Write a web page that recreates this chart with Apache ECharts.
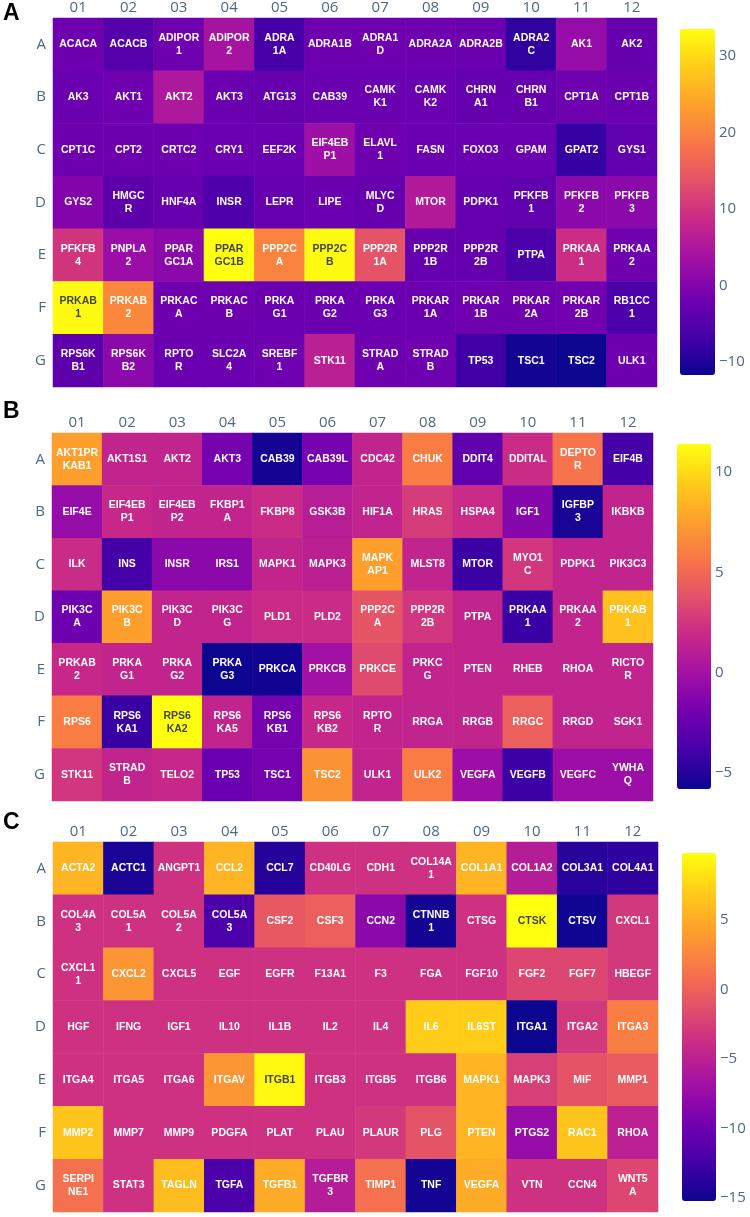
<!DOCTYPE html>
<html>
<head>
<meta charset="utf-8">
<script src="https://cdn.jsdelivr.net/npm/echarts@6/dist/echarts.min.js"></script>
<style>
  html, body { margin: 0; padding: 0; background: #fff; }
  #chart { width: 750px; height: 1217px; }
</style>
</head>
<body>
<div id="chart"></div>
<script>
var cols = ['01', '02', '03', '04', '05', '06', '07', '08', '09', '10', '11', '12'];
var rows = ['A', 'B', 'C', 'D', 'E', 'F', 'G'];

// panel A
var genesA = [
  'ACACA', 'ACACB', 'ADIPOR\n1', 'ADIPOR\n2', 'ADRA\n1A', 'ADRA1B', 'ADRA1\nD', 'ADRA2A', 'ADRA2B', 'ADRA2\nC', 'AK1', 'AK2',
  'AK3', 'AKT1', 'AKT2', 'AKT3', 'ATG13', 'CAB39', 'CAMK\nK1', 'CAMK\nK2', 'CHRN\nA1', 'CHRN\nB1', 'CPT1A', 'CPT1B',
  'CPT1C', 'CPT2', 'CRTC2', 'CRY1', 'EEF2K', 'EIF4EB\nP1', 'ELAVL\n1', 'FASN', 'FOXO3', 'GPAM', 'GPAT2', 'GYS1',
  'GYS2', 'HMGC\nR', 'HNF4A', 'INSR', 'LEPR', 'LIPE', 'MLYC\nD', 'MTOR', 'PDPK1', 'PFKFB\n1', 'PFKFB\n2', 'PFKFB\n3',
  'PFKFB\n4', 'PNPLA\n2', 'PPAR\nGC1A', 'PPAR\nGC1B', 'PPP2C\nA', 'PPP2C\nB', 'PPP2R\n1A', 'PPP2R\n1B', 'PPP2R\n2B', 'PTPA', 'PRKAA\n1', 'PRKAA\n2',
  'PRKAB\n1', 'PRKAB\n2', 'PRKAC\nA', 'PRKAC\nB', 'PRKA\nG1', 'PRKA\nG2', 'PRKA\nG3', 'PRKAR\n1A', 'PRKAR\n1B', 'PRKAR\n2A', 'PRKAR\n2B', 'RB1CC\n1',
  'RPS6K\nB1', 'RPS6K\nB2', 'RPTO\nR', 'SLC2A\n4', 'SREBF\n1', 'STK11', 'STRAD\nA', 'STRAD\nB', 'TP53', 'TSC1', 'TSC2', 'ULK1'
];
var valuesA = [
  -2.0, -5.0, -2.0, 4.0, -6.5, -2.0, -2.0, -2.0, -2.5, -8.5, 2.0, -3.0,
  -2.5, -2.0, 5.0, -2.5, -3.0, -2.5, -2.5, -2.5, -3.0, -3.0, -2.0, -2.5,
  -2.0, -2.0, -2.0, -2.5, -2.5, 3.0, -2.0, -2.5, -2.5, -2.5, -8.0, -3.5,
  0.0, -4.0, -3.0, -5.5, -3.0, -2.5, -3.0, 5.5, -3.0, -3.5, 1.0, 1.0,
  10.0, 2.5, 1.0, 33.5, 20.0, 33.0, 14.0, -3.0, -3.0, -6.0, 9.0, -2.0,
  33.0, 20.5, -2.0, -2.0, -2.5, -2.5, -2.5, -2.5, -2.0, -2.0, -1.5, -6.0,
  -4.0, 1.0, -2.5, -2.5, -2.0, 6.5, -2.0, -2.0, -7.0, -11.0, -11.7, -2.0
];
var rangeA = [-11.7, 33.5];
var ticksA = [30, 20, 10, 0, -10];

// panel B
var genesB = [
  'AKT1PR\nKAB1', 'AKT1S1', 'AKT2', 'AKT3', 'CAB39', 'CAB39L', 'CDC42', 'CHUK', 'DDIT4', 'DDITAL', 'DEPTO\nR', 'EIF4B',
  'EIF4E', 'EIF4EB\nP1', 'EIF4EB\nP2', 'FKBP1\nA', 'FKBP8', 'GSK3B', 'HIF1A', 'HRAS', 'HSPA4', 'IGF1', 'IGFBP\n3', 'IKBKB',
  'ILK', 'INS', 'INSR', 'IRS1', 'MAPK1', 'MAPK3', 'MAPK\nAP1', 'MLST8', 'MTOR', 'MYO1\nC', 'PDPK1', 'PIK3C3',
  'PIK3C\nA', 'PIK3C\nB', 'PIK3C\nD', 'PIK3C\nG', 'PLD1', 'PLD2', 'PPP2C\nA', 'PPP2R\n2B', 'PTPA', 'PRKAA\n1', 'PRKAA\n2', 'PRKAB\n1',
  'PRKAB\n2', 'PRKA\nG1', 'PRKA\nG2', 'PRKA\nG3', 'PRKCA', 'PRKCB', 'PRKCE', 'PRKC\nG', 'PTEN', 'RHEB', 'RHOA', 'RICTO\nR',
  'RPS6', 'RPS6\nKA1', 'RPS6\nKA2', 'RPS6\nKA5', 'RPS6\nKB1', 'RPS6\nKB2', 'RPTO\nR', 'RRGA', 'RRGB', 'RRGC', 'RRGD', 'SGK1',
  'STK11', 'STRAD\nB', 'TELO2', 'TP53', 'TSC1', 'TSC2', 'ULK1', 'ULK2', 'VEGFA', 'VEGFB', 'VEGFC', 'YWHA\nQ'
];
var valuesB = [
  7.5, 1.5, 1.5, -1.8, -5.5, -1.8, 1.5, 6.0, -2.7, 2.0, 5.5, -3.9,
  -0.6, 1.8, 1.5, 1.5, 2.0, 1.0, 1.5, 2.8, 2.0, -1.2, -5.4, 1.5,
  2.0, -3.9, -1.0, -1.0, 1.5, 1.2, 7.5, 1.5, -4.2, 2.5, 1.5, 1.5,
  -2.2, 7.5, 1.5, 1.5, 2.0, 2.0, 4.0, 2.5, 1.5, -4.3, 1.5, 9.0,
  1.8, 1.5, 1.5, -5.8, -5.6, 0.0, 3.5, 1.5, 1.5, 1.5, 1.5, 1.5,
  6.0, -4.3, 11.4, 1.5, -1.8, 1.8, 1.5, 1.5, 1.5, 4.5, 1.5, 1.5,
  2.5, 1.5, 1.8, -2.3, -1.8, 7.0, 1.5, 6.0, -0.3, -4.2, -0.3, -0.3
];
var rangeB = [-5.8, 11.4];
var ticksB = [10, 5, 0, -5];

// panel C
var genesC = [
  'ACTA2', 'ACTC1', 'ANGPT1', 'CCL2', 'CCL7', 'CD40LG', 'CDH1', 'COL14A\n1', 'COL1A1', 'COL1A2', 'COL3A1', 'COL4A1',
  'COL4A\n3', 'COL5A\n1', 'COL5A\n2', 'COL5A\n3', 'CSF2', 'CSF3', 'CCN2', 'CTNNB\n1', 'CTSG', 'CTSK', 'CTSV', 'CXCL1',
  'CXCL1\n1', 'CXCL2', 'CXCL5', 'EGF', 'EGFR', 'F13A1', 'F3', 'FGA', 'FGF10', 'FGF2', 'FGF7', 'HBEGF',
  'HGF', 'IFNG', 'IGF1', 'IL10', 'IL1B', 'IL2', 'IL4', 'IL6', 'IL6ST', 'ITGA1', 'ITGA2', 'ITGA3',
  'ITGA4', 'ITGA5', 'ITGA6', 'ITGAV', 'ITGB1', 'ITGB3', 'ITGB5', 'ITGB6', 'MAPK1', 'MAPK3', 'MIF', 'MMP1',
  'MMP2', 'MMP7', 'MMP9', 'PDGFA', 'PLAT', 'PLAU', 'PLAUR', 'PLG', 'PTEN', 'PTGS2', 'RAC1', 'RHOA',
  'SERPI\nNE1', 'STAT3', 'TAGLN', 'TGFA', 'TGFB1', 'TGFBR\n3', 'TIMP1', 'TNF', 'VEGFA', 'VTN', 'CCN4', 'WNT5\nA'
];
var valuesC = [
  5.5, -14.5, -3.5, 5.5, -14.0, -3.5, -3.5, -3.5, 5.5, -5.5, -13.8, -13.5,
  -3.5, -3.5, -3.5, -12.0, -0.7, -0.2, -8.2, -14.8, -3.5, 9.8, -15.0, -3.0,
  -3.5, 3.5, -3.5, -3.5, -3.5, -3.5, -3.5, -3.5, -3.5, -2.0, -2.0, -3.0,
  -3.5, -3.5, -3.5, -3.5, -3.5, -3.5, -3.5, 7.0, 7.0, -15.2, -3.0, 2.0,
  -3.5, -3.5, -3.5, 3.5, 9.5, -3.5, -3.5, -3.5, 5.5, -2.5, -1.0, -0.5,
  6.5, -3.5, -3.5, -3.5, -3.5, -3.5, -3.0, -1.0, 5.5, -7.5, 6.5, -5.0,
  1.0, -3.5, 6.0, -12.0, 5.0, -5.5, 1.0, -14.8, 5.0, -3.5, -3.5, -2.0
];
var rangeC = [-15.2, 9.8];
var ticksC = [5, 0, -5, -10, -15];

// plasma, pushed a little more saturated like the reference
var plasma = ['#0c0590', '#4500a8', '#7200b0', '#a210a5', '#c82888', '#e2506a', '#f87648', '#fda02c', '#ffcc18', '#ffff10'];

var panels = [
  { letter: 'A', genes: genesA, values: valuesA, range: rangeA, ticks: ticksA,
    grid: { left: 53, top: 17, width: 604, height: 370 }, bar: { left: 680, top: 29, width: 35, height: 346 }, letterTop: 2 },
  { letter: 'B', genes: genesB, values: valuesB, range: rangeB, ticks: ticksB,
    grid: { left: 52, top: 433, width: 601, height: 368 }, bar: { left: 677, top: 444, width: 34, height: 345 }, letterTop: 400 },
  { letter: 'C', genes: genesC, values: valuesC, range: rangeC, ticks: ticksC,
    grid: { left: 53, top: 842, width: 605, height: 370 }, bar: { left: 682, top: 853, width: 34, height: 348 }, letterTop: 811 }
];

var option = {
  backgroundColor: '#fff',
  animation: false,
  title: [], grid: [], xAxis: [], yAxis: [], series: [], visualMap: []
};

panels.forEach(function (p, i) {
  var data = [];
  p.values.forEach(function (v, k) {
    var t = (v - p.range[0]) / (p.range[1] - p.range[0]);
    var item = { name: p.genes[k], value: [k % 12, Math.floor(k / 12), v] };
    if (t > 0.94) item.label = { color: '#444' };
    data.push(item);
  });

  option.title.push({
    text: p.letter, left: 3, top: p.letterTop, padding: 0,
    textStyle: { fontSize: 23, fontWeight: 'bold', color: '#000', fontFamily: 'Liberation Sans' }
  });

  // heatmap grid
  option.grid.push(p.grid);
  option.xAxis.push({
    type: 'category', gridIndex: 2 * i, data: cols, position: 'top',
    axisLine: { show: false }, axisTick: { show: false }, splitArea: { show: false },
    axisLabel: { color: '#506784', fontSize: 15, fontFamily: 'Open Sans', margin: 3 }
  });
  option.yAxis.push({
    type: 'category', gridIndex: 2 * i, data: rows, inverse: true,
    axisLine: { show: false }, axisTick: { show: false }, splitArea: { show: false },
    axisLabel: { color: '#506784', fontSize: 15, fontFamily: 'Open Sans', margin: 7 }
  });

  // colorbar tick axis
  option.grid.push(p.bar);
  option.xAxis.push({ type: 'value', gridIndex: 2 * i + 1, show: false });
  option.yAxis.push({
    type: 'value', gridIndex: 2 * i + 1, min: p.range[0], max: p.range[1], position: 'right',
    axisLine: { show: false }, axisTick: { show: false }, splitLine: { show: false },
    axisLabel: {
      customValues: p.ticks, color: '#506784', fontSize: 15, fontFamily: 'Open Sans', margin: 4,
      formatter: function (v) { return String(v).replace('-', '\u2212'); }
    }
  });

  option.series.push({
    type: 'heatmap', xAxisIndex: 2 * i, yAxisIndex: 2 * i, data: data,
    label: {
      show: true, formatter: '{b}', color: '#fff', fontSize: 10.5, fontWeight: 'bold',
      fontFamily: 'Liberation Sans', lineHeight: 13
    },
    itemStyle: { borderWidth: 0 },
    emphasis: { disabled: true }
  });

  option.visualMap.push({
    type: 'continuous', seriesIndex: i, min: p.range[0], max: p.range[1],
    calculable: false, realtime: false, padding: 0,
    left: p.bar.left, top: p.bar.top, itemWidth: p.bar.width, itemHeight: p.bar.height,
    inRange: { color: plasma }, textStyle: { color: 'transparent' }
  });
});

var chart = echarts.init(document.getElementById('chart'));
chart.setOption(option);
</script>
</body>
</html>
